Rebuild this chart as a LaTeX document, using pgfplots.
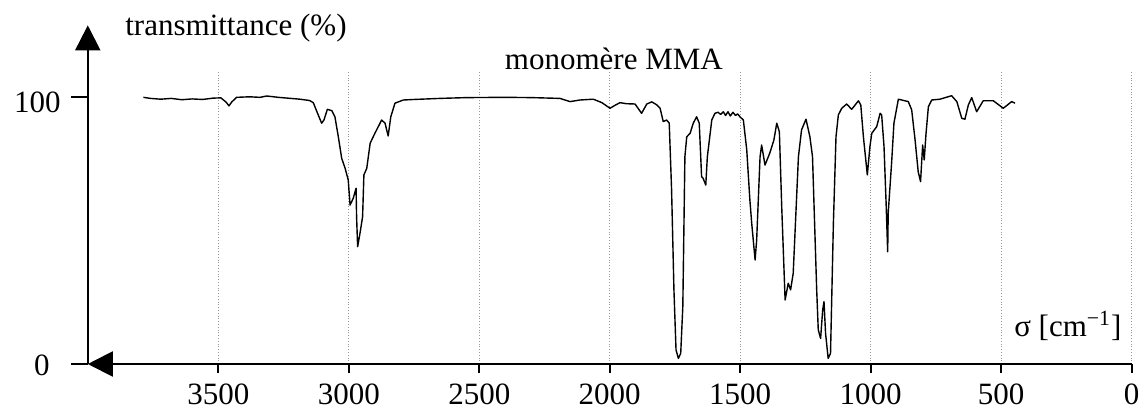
\documentclass[border=0pt]{standalone}
\usepackage{fontspec}
\setmainfont{Liberation Serif}
\usepackage{pgfplots}
\pgfplotsset{compat=1.18}
\usetikzlibrary{arrows.meta}

\newcommand{\lbl}{\fontsize{15.5pt}{18pt}\selectfont}

\begin{document}
\begin{tikzpicture}[font=\lbl]
\useasboundingbox (-43.9pt,-22.5pt) rectangle (526.6pt,182pt);
\begin{axis}[
  at={(0,0)}, anchor=south west,
  scale only axis, width=521.95pt, height=146.67pt,
  xmin=0, xmax=4000, x dir=reverse,
  ymin=0, ymax=110,
  clip=false,
  axis lines=left,
  axis line style={draw=none},
  xtick={0,500,...,3500},
  ytick=\empty,
  minor ytick={10,20,...,90},
  tick align=outside,
  xtick pos=bottom, ytick pos=left,
  tick style={line width=1pt, black},
  major tick length=4.5pt, minor tick length=5pt,
  every tick label/.append style={font=\lbl},
  /pgf/number format/assume math mode=true,
  /pgf/number format/set thousands separator={},
  xticklabel style={inner sep=0pt, anchor=north, yshift=-5pt},
  xmajorgrids,
  grid style={densely dotted, gray!80, line width=0.5pt},
]
% axes with arrowheads
\draw[line width=1pt, -{Triangle[length=12.5pt,width=12.5pt]}] (axis cs:0,0) -- (axis cs:4000,0);
\draw[line width=1pt, -{Triangle[length=12.5pt,width=12.5pt]}] (axis cs:4000,0) -- (axis cs:4000,127);
% long ticks at 0 and 100
\draw[line width=1pt] (axis cs:4000,0) -- ++(-8.5pt,0);
\draw[line width=1pt] (axis cs:4000,100) -- ++(-8.5pt,0);

% infrared spectrum of the monomer
\addplot[black, line width=0.7pt, mark=none, line join=round] coordinates {
(3787,100) (3760,99.6) (3720,99.3) (3680,99.6) (3640,99.1) (3600,99.4)
(3560,99.2) (3520,99.7) (3490,99.8) (3470,98.2) (3459,96.8) (3448,98.3)
(3430,100.0) (3380,100.2) (3340,100.0) (3314,100.5) (3270,100.0) (3187,99.3)
(3150,98.8) (3136,98.0) (3117,93.4) (3104,90.3) (3095,91.5) (3082,95.5)
(3065,95.0) (3053,92.7) (3040,85.2) (3027,77.1) (3014,73.4) (3002,69)
(2995,59.6) (2983,62.1) (2972,65.9) (2970,55.2) (2966,44) (2957,49)
(2947,55.2) (2942,70.9) (2931,73.4) (2918,82.8) (2900,86.5) (2874,91.5)
(2861,90.3) (2849,85.5) (2839,92.7) (2823,97.8) (2791,99.0) (2750,99.2)
(2650,99.6) (2548,99.9) (2400,100.0) (2300,99.9) (2191,99.6) (2152,98.4)
(2114,99.0) (2063,99.3) (2030,98) (1999,95.9) (1980,97) (1961,98)
(1935,97.6) (1903,97.5) (1878,94) (1858,97.5) (1839,98.3) (1820,97.2)
(1807,95.9) (1795,90.9) (1782,91.5) (1772,90.3) (1763,65.3) (1754,27.8)
(1746,5.3) (1737,2.1) (1728,4) (1720,21.5) (1712,77.7) (1705,85.2)
(1692,86.5) (1680,90.3) (1667,92.7) (1657,90.3) (1648,70.2) (1642,69.6)
(1632,67.1) (1626,77.7) (1609,91.5) (1597,94) (1585,94.4) (1575,93.6)
(1565,94.6) (1556,93.2) (1547,94.6) (1538,93.0) (1528,94.4) (1518,93.2)
(1510,93.8) (1501,92.7) (1488,91.5) (1475,80.3) (1463,61.5) (1456,52.8)
(1443,39) (1437,46.5) (1424,77.7) (1418,82.1) (1405,74.6) (1386,79.3)
(1371,84) (1360,90.3) (1350,87.1) (1341,59) (1328,24) (1316,30.3)
(1307,27.8) (1297,34) (1277,77.7) (1265,87.8) (1248,91.8) (1233,85.2)
(1223,77.7) (1207,27.8) (1201,12.8) (1192,9.6) (1184,20.3) (1179,23.4)
(1173,11.5) (1163,2.1) (1154,4) (1143,52.8) (1133,85.2) (1124,93.4)
(1111,95.9) (1092,97.5) (1073,95.5) (1047,98.7) (1038,97.1) (1028,85.2)
(1013,70.9) (1003,81.5) (996,86.5) (977,89) (964,94) (958,93.4)
(949,81.5) (941,60.3) (935,42.1) (933,56.5) (920,75.3) (911,90.3)
(894,99.3) (856,98.4) (843,95.3) (830,84) (818,72.1) (809,68.4)
(801,82.1) (795,76.5) (788,86.5) (779,96.5) (766,99) (735,99.3)
(690,100.6) (670,98.4) (651,92.1) (639,91.8) (626,97.1) (613,99.9)
(594,94.6) (569,98.7) (530,98.7) (492,95.9) (460,98.4) (447,97.8)
};

% y tick labels
\node[anchor=base east, inner sep=0pt, xshift=-13.4pt, yshift=-7.7pt] at (axis cs:4000,100) {100};
\node[anchor=base east, inner sep=0pt, xshift=-18.9pt, yshift=-5.5pt] at (axis cs:4000,0) {0};

% titles
\node[anchor=base west, inner sep=0pt] at (axis cs:3857.5,123) {transmittance (\%)};
\node[anchor=base, inner sep=0pt] at (axis cs:1984,110.6) {monomère MMA};
\node[anchor=base east, inner sep=0pt] at (axis cs:38,10.5) {σ [cm\textsuperscript{−1}]};
\end{axis}
\end{tikzpicture}
\end{document}
